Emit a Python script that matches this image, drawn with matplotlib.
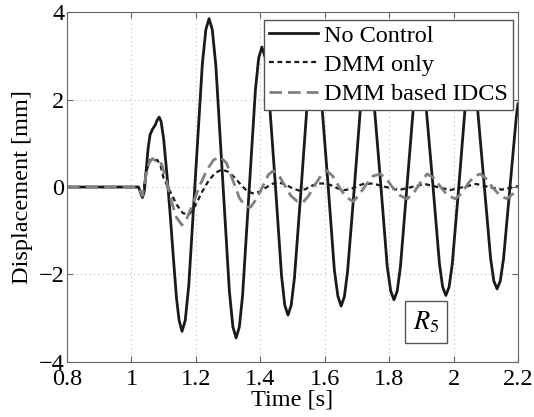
import matplotlib
matplotlib.use('Agg')
import matplotlib.pyplot as plt

# No Control (solid black)
t_nc = [0.8, 1.0, 1.022, 1.028, 1.034, 1.040, 1.046, 1.052, 1.058, 1.066, 1.074, 1.080, 1.086,
        1.092, 1.100, 1.110, 1.120, 1.130, 1.140, 1.148, 1.157,
        1.167, 1.178, 1.199, 1.220, 1.231, 1.241,
        1.251, 1.262, 1.283, 1.304, 1.315, 1.325,
        1.335, 1.345, 1.365, 1.385, 1.395, 1.405,
        1.415, 1.425, 1.446, 1.466, 1.476, 1.486,
        1.496, 1.506, 1.527, 1.547, 1.558, 1.568,
        1.578, 1.589, 1.610, 1.630, 1.641, 1.651,
        1.661, 1.671, 1.692, 1.712, 1.723, 1.733,
        1.743, 1.753, 1.774, 1.794, 1.805, 1.815,
        1.825, 1.835, 1.855, 1.875, 1.885, 1.895,
        1.905, 1.915, 1.936, 1.956, 1.966, 1.976,
        1.986, 1.996, 2.016, 2.035, 2.045, 2.055,
        2.065, 2.075, 2.095, 2.115, 2.125, 2.135,
        2.145, 2.155, 2.175, 2.195, 2.200]
d_nc = [0, 0, 0, -0.12, -0.24, -0.10, 0.40, 0.90, 1.20, 1.33, 1.42, 1.53, 1.60,
        1.50, 1.10, 0.30, -0.60, -1.60, -2.55, -3.05, -3.30,
        -3.05, -2.25, 0.275, 2.80, 3.60, 3.85,
        3.60, 2.78, 0.20, -2.38, -3.20, -3.45,
        -3.20, -2.48, -0.125, 2.23, 2.95, 3.20,
        2.97, 2.30, 0.135, -2.03, -2.70, -2.93,
        -2.70, -2.08, -0.015, 2.05, 2.68, 2.90,
        2.69, 2.08, 0.09, -1.90, -2.50, -2.72,
        -2.51, -1.93, -0.01, 1.91, 2.50, 2.70,
        2.50, 1.93, 0.06, -1.81, -2.38, -2.58,
        -2.38, -1.83, -0.015, 1.80, 2.35, 2.55,
        2.36, 1.81, 0.035, -1.74, -2.28, -2.48,
        -2.29, -1.76, -0.015, 1.73, 2.26, 2.45,
        2.27, 1.75, 0.06, -1.63, -2.15, -2.33,
        -2.15, -1.65, -0.015, 1.62, 1.90]

# DMM only (black dotted)
t_dmm = [0.8, 1.022, 1.034, 1.046, 1.058, 1.070, 1.080, 1.090, 1.100, 1.120, 1.140, 1.160, 1.180,
         1.200, 1.220, 1.240, 1.260, 1.280, 1.300, 1.320, 1.340, 1.360, 1.380, 1.400, 1.420,
         1.440, 1.460, 1.480, 1.500, 1.520, 1.540, 1.560, 1.580, 1.600, 1.620, 1.640, 1.660,
         1.680, 1.700, 1.720, 1.750, 1.790, 1.830, 1.870, 1.910, 1.950, 1.990, 2.030, 2.070,
         2.110, 2.150, 2.200]
d_dmm = [0, 0, -0.24, 0.35, 0.62, 0.60, 0.62, 0.50, 0.20, -0.10, -0.40, -0.60, -0.62,
         -0.40, -0.10, 0.15, 0.32, 0.40, 0.35, 0.22, 0.05, -0.10, -0.15, -0.10, 0.0,
         0.08, 0.10, 0.05, -0.03, -0.08, -0.05, 0.03, 0.08, 0.08, 0.04, -0.03, -0.07,
         -0.05, 0.02, 0.07, 0.08, 0.0, -0.07, 0.0, 0.07, 0.0, -0.07, 0.0, 0.07,
         0.0, -0.06, 0.02]

# DMM based IDCS (grey dashed)
t_idcs = [0.8, 1.022, 1.034, 1.046, 1.055, 1.065, 1.075, 1.085, 1.095, 1.110, 1.125, 1.140, 1.157,
          1.170, 1.190, 1.210, 1.235, 1.255, 1.275, 1.295, 1.315, 1.335, 1.355, 1.370, 1.390,
          1.410, 1.425, 1.440, 1.455, 1.475, 1.495, 1.515, 1.533, 1.550, 1.570, 1.590, 1.607,
          1.625, 1.645, 1.665, 1.688, 1.705, 1.725, 1.750, 1.772, 1.790, 1.810, 1.835, 1.856,
          1.875, 1.895, 1.918, 1.940, 1.960, 1.980, 2.005, 2.025, 2.045, 2.065, 2.083, 2.100,
          2.120, 2.145, 2.166, 2.185, 2.200]
d_idcs = [0, 0, -0.20, 0.30, 0.55, 0.65, 0.60, 0.62, 0.50, 0.10, -0.35, -0.70, -0.87,
          -0.75, -0.40, 0.0, 0.40, 0.62, 0.69, 0.55, 0.15, -0.25, -0.45, -0.46, -0.25,
          0.05, 0.28, 0.37, 0.30, 0.05, -0.20, -0.33, -0.35, -0.20, 0.05, 0.28, 0.37,
          0.25, 0.0, -0.22, -0.33, -0.20, 0.02, 0.25, 0.30, 0.20, 0.0, -0.20, -0.27,
          -0.15, 0.08, 0.30, 0.20, 0.0, -0.18, -0.27, -0.15, 0.08, 0.25, 0.30, 0.20,
          0.0, -0.20, -0.27, -0.15, 0.0]

x_ticks = [0.8, 1.0, 1.2, 1.4, 1.6, 1.8, 2.0, 2.2]
x_labels = ['0.8', '1', '1.2', '1.4', '1.6', '1.8', '2', '2.2']
y_ticks = [-4, -2, 0, 2, 4]

plt.rcParams['font.family'] = 'Liberation Serif'
plt.rcParams['mathtext.fontset'] = 'stix'
plt.rcParams['font.size'] = 17.5

fig = plt.figure(figsize=(5.34, 4.17), dpi=100)
ax = fig.add_axes([0.1255, 0.132, 0.8445, 0.839])

ax.plot(t_nc, d_nc, '-', color='#1a1a1a', lw=2.0, label='No Control')
ax.plot(t_dmm, d_dmm, color='#1a1a1a', lw=1.6, dashes=(2.2, 1.6), label='DMM only')
ax.plot(t_idcs, d_idcs, color='#808080', lw=2.0, dashes=(4.5, 2.2), label='DMM based IDCS')

ax.set_xlim(0.8, 2.2)
ax.set_ylim(-4, 4)
ax.set_xticks(x_ticks)
ax.set_xticklabels(x_labels)
ax.set_yticks(y_ticks)
ax.tick_params(direction='in', top=True, right=True, length=4, color='#666666')
ax.tick_params(axis='x', pad=5)
ax.tick_params(axis='y', pad=2)
for s in ax.spines.values():
    s.set_color('#666666')
ax.grid(True, linestyle=(0, (1, 3)), color='#bbbbbb', lw=0.8)

ax.set_xlabel('Time [s]', labelpad=0)
ax.set_ylabel('Displacement [mm]', labelpad=4)

leg = ax.legend(loc='upper right', bbox_to_anchor=(0.988, 0.978), fancybox=False,
                framealpha=1, edgecolor='#555555', handlelength=2.0, handletextpad=0.25,
                borderpad=0.2, labelspacing=0.3, borderaxespad=0.0)
leg.get_frame().set_linewidth(1.0)

ax.text(1.915, -3.09, r'$R_5$', ha='center', va='center', fontsize=19,
        bbox=dict(boxstyle='square,pad=0.3', facecolor='white', edgecolor='#555555', lw=1.0))

fig.savefig('out.png', dpi=100)
